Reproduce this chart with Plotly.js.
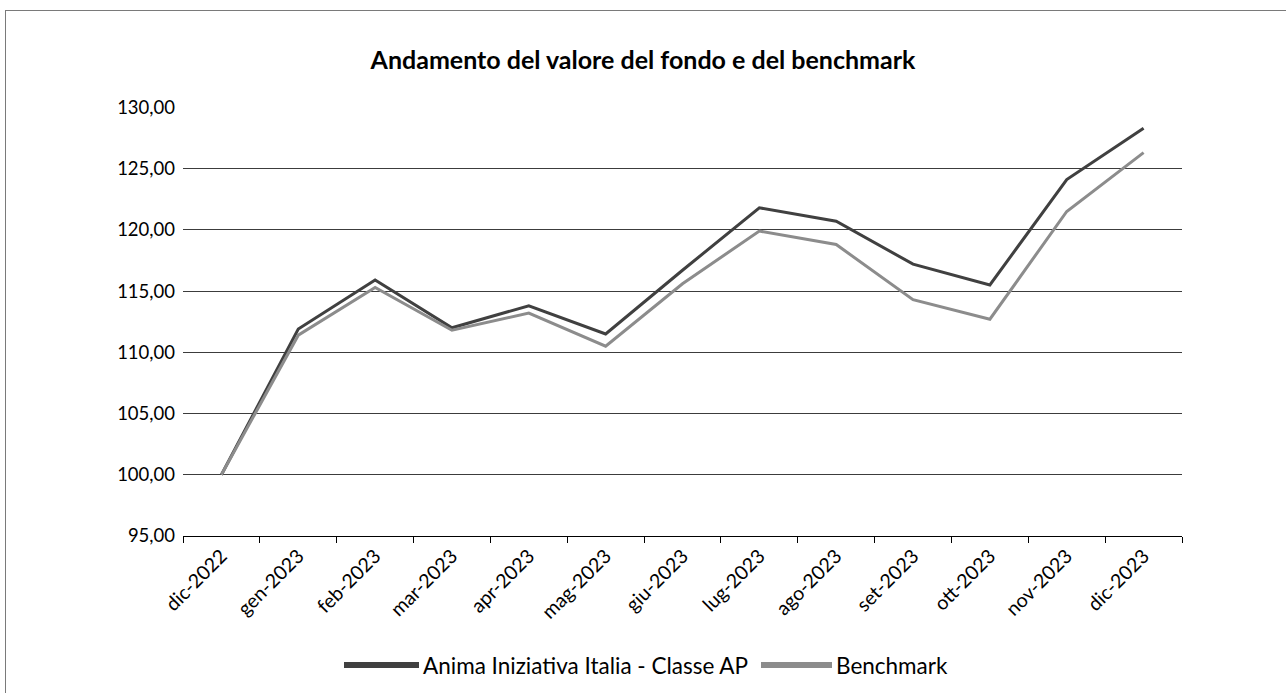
<!DOCTYPE html>
<html>
<head>
<meta charset="utf-8">
<script src="https://cdn.plot.ly/plotly-3.0.1.min.js"></script>
<style>
  html, body { margin: 0; padding: 0; background: #fff; overflow: hidden; }
  #chart { position: absolute; left: 0; top: 0; width: 1286px; height: 693px; }
  #frame { position: absolute; left: 5px; top: 10px; width: 1320px; height: 720px;
           border: 1.5px solid #7a7a7a; pointer-events: none; box-sizing: border-box; }
</style>
</head>
<body>
<div id="chart"></div>
<div id="frame"></div>
<script>
const categories = ["dic-2022","gen-2023","feb-2023","mar-2023","apr-2023","mag-2023","giu-2023",
                    "lug-2023","ago-2023","set-2023","ott-2023","nov-2023","dic-2023"];
const fondo = [100.0, 111.9, 115.9, 112.0, 113.8, 111.5, 116.7, 121.8, 120.7, 117.2, 115.5, 124.1, 128.3];
const benchmark = [100.0, 111.4, 115.3, 111.8, 113.2, 110.5, 115.6, 119.9, 118.8, 114.3, 112.7, 121.5, 126.3];
const yTicks = [95, 100, 105, 110, 115, 120, 125, 130];
const seriesNames = ["Anima Iniziativa Italia - Classe AP", "Benchmark"];
const seriesColors = ["#404040", "#8c8c8c"];
const chartTitle = "Andamento del valore del fondo e del benchmark";

const font = "Lato, 'Open Sans', sans-serif";

const traces = [
  { x: categories, y: fondo, name: seriesNames[0], type: "scatter", mode: "lines",
    line: { color: seriesColors[0], width: 3 }, showlegend: false },
  { x: categories, y: benchmark, name: seriesNames[1], type: "scatter", mode: "lines",
    line: { color: seriesColors[1], width: 3 }, showlegend: false }
];

// Manual legend (long thick swatches like the original), positioned in paper coordinates
const px2x = p => (p - 183) / 999;
const legY = (536 - 665) / 429;
const legendItems = [
  { x0: px2x(344), x1: px2x(419), tx: px2x(421) },
  { x0: px2x(761), x1: px2x(832), tx: px2x(834) }
];
const shapes = legendItems.map((it, i) => ({
  type: "line", xref: "paper", yref: "paper", x0: it.x0, x1: it.x1, y0: legY, y1: legY,
  line: { color: seriesColors[i], width: 6 }
}));
const annotations = legendItems.map((it, i) => ({
  xref: "paper", yref: "paper", x: it.tx, y: legY, xanchor: "left", yanchor: "middle",
  text: seriesNames[i], showarrow: false, font: { family: font, size: 22.5, color: "#000" }
}));

const layout = {
  width: 1286, height: 693,
  paper_bgcolor: "rgba(0,0,0,0)", plot_bgcolor: "#fff",
  margin: { l: 183, r: 104, t: 107, b: 157 },
  separators: ",.",
  font: { family: font, color: "#000" },
  title: { text: "<b>" + chartTitle + "</b>", font: { family: font, size: 25, color: "#000" },
           xref: "container", x: 0.5, xanchor: "center", yref: "container", y: 1 - 60/693, yanchor: "middle" },
  xaxis: {
    type: "category", range: [-0.5, 12.5],
    tickson: "boundaries", ticks: "outside", ticklen: 6, tickcolor: "#000", tickwidth: 1,
    showline: true, linecolor: "#000", linewidth: 1,
    showgrid: false, zeroline: false,
    tickangle: -45, tickfont: { family: font, size: 19.5, color: "#000" }
  },
  yaxis: {
    range: [95, 130.03], tickvals: yTicks, tickformat: ".2f",
    ticks: "", ticklabelstandoff: 7,
    showline: false, showgrid: true, gridcolor: "#3c3c3c", gridwidth: 1, zeroline: false,
    tickfont: { family: font, size: 18.5, color: "#000" }
  },
  showlegend: false,
  shapes: shapes,
  annotations: annotations
};

Plotly.newPlot("chart", traces, layout, { displayModeBar: false, staticPlot: true });
</script>
</body>
</html>
